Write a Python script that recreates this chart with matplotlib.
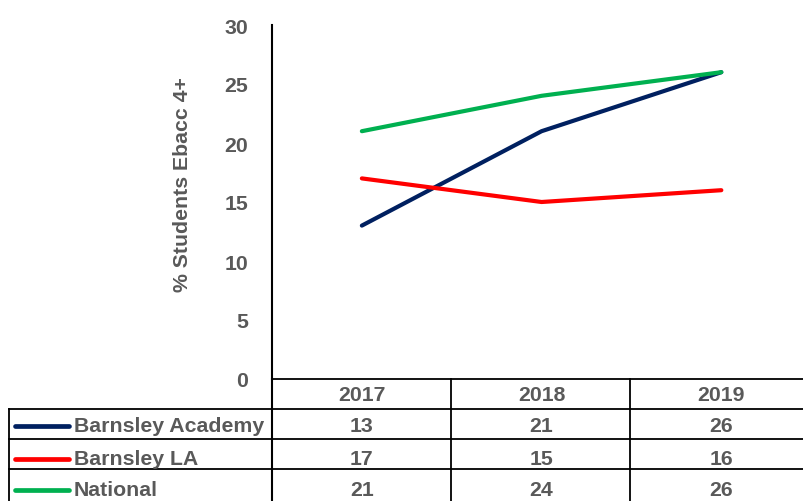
import matplotlib
matplotlib.use("Agg")
import matplotlib.pyplot as plt
from matplotlib.transforms import blended_transform_factory

years = ["2017", "2018", "2019"]
series_names = ["Barnsley Academy", "Barnsley LA", "National"]
academy = [13, 21, 26]
la = [17, 15, 16]
national = [21, 24, 26]
series_values = [academy, la, national]
colors = ["#002060", "#FF0000", "#00B050"]
y_ticks = [0, 5, 10, 15, 20, 25, 30]
y_label = "% Students Ebacc 4+"

W, H = 804, 502
plt.rcParams['font.family'] = ['Liberation Sans', 'DejaVu Sans']
FS = 15.3
fig = plt.figure(figsize=(W / 100, H / 100), dpi=100)

# overlay in pixel coordinates for the data table
ov = fig.add_axes([0, 0, 1, 1])
ov.set_xlim(0, W)
ov.set_ylim(H, 0)
ov.axis("off")

ax = fig.add_axes([272 / W, (H - 380) / H, (W - 272) / W, (380 - 26) / H])
ax.patch.set_alpha(0)
x = list(range(len(years)))
for vals, c in zip(series_values, colors):
    ax.plot(x, vals, color=c, lw=3.0, solid_capstyle="round")
ax.set_xlim(-0.5, 2.46)
ax.set_ylim(0, 30)
ax.set_yticks(y_ticks)
ax.set_yticklabels([str(t) for t in y_ticks], fontsize=FS, fontweight="bold", color="#595959")
ax.tick_params(axis="y", length=0, pad=17)
ax.set_xticks([])
for s in ["top", "right", "bottom"]:
    ax.spines[s].set_visible(False)
ax.spines["left"].set_linewidth(1.5)
ax.spines["left"].set_color("black")
ax.set_ylabel(y_label, fontsize=FS, fontweight="bold", color="#595959",
              va="center", ha="center")
ax.yaxis.set_label_coords((183 - 272) / (W - 272), (380 - 185) / (380 - 26))

# table grid
lc = "black"
lw = 1.3
ov.plot([272, W], [380, 380], color=lc, lw=lw)
for yy in [410, 440, 470]:
    ov.plot([9, W], [yy, yy], color=lc, lw=lw)
ov.plot([9, 9], [410, H], color=lc, lw=lw)
ov.plot([272, 272], [380, H], color=lc, lw=1.5)
for xx in [451, 630]:
    ov.plot([xx, xx], [380, H], color=lc, lw=lw)

tr = blended_transform_factory(ax.transData, ov.transData)
txt = dict(fontsize=FS, fontweight="bold", color="#595959", ha="center", va="center")
for i, yr in enumerate(years):
    ov.text(i, 396, yr, transform=tr, **txt)
row_y = [427, 460, 491]
for r, (name, vals, c) in enumerate(zip(series_names, series_values, colors)):
    ov.plot([15, 69], [row_y[r], row_y[r]], color=c, lw=3.4, solid_capstyle="round")
    ov.text(74, row_y[r], name, fontsize=FS, fontweight="bold", color="#595959",
            ha="left", va="center")
    for i, v in enumerate(vals):
        ov.text(i, row_y[r], str(v), transform=tr, **txt)

fig.savefig("out.png", dpi=100)
